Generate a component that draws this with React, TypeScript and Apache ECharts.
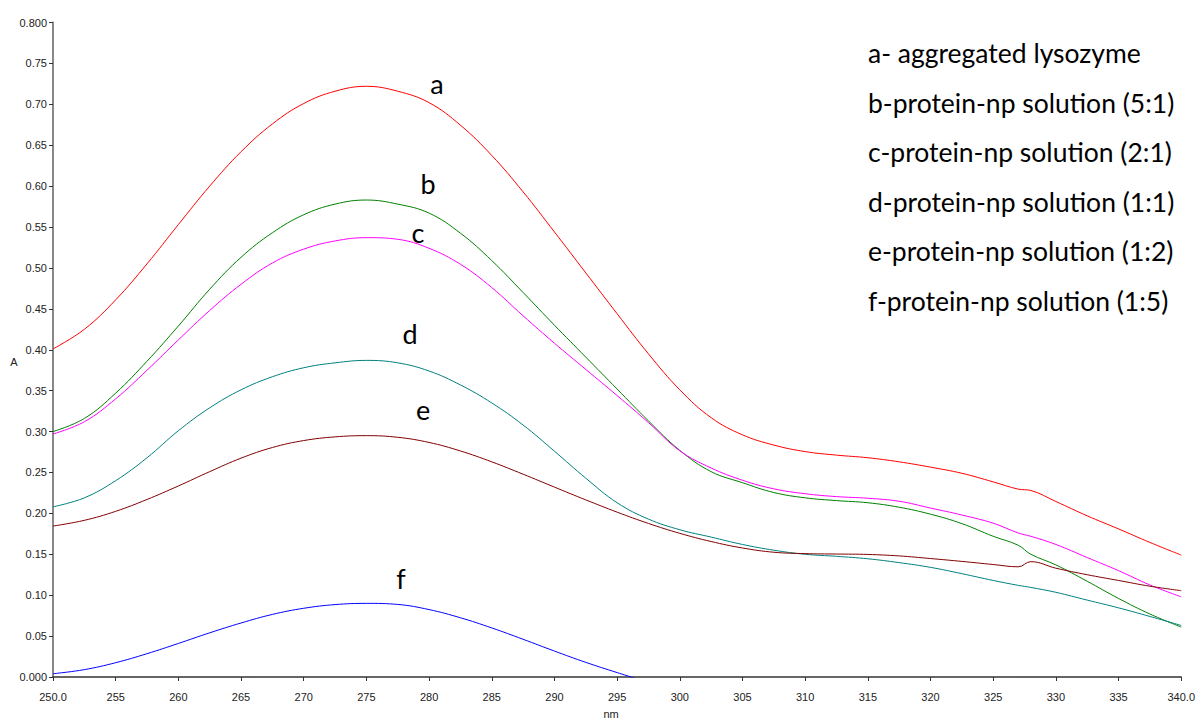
import React, { useEffect, useRef } from 'react';
import * as echarts from 'echarts';

const wavelengths = [250, 252.5, 255, 257.5, 260, 262.5, 265, 267.5, 270, 272.5, 275, 277.5, 280, 282.5, 285, 287.5, 290, 292.5, 295, 297.5, 300, 302.5, 305, 307.5, 310, 312.5, 315, 317.5, 320, 322.5, 325, 327, 328, 330, 332.5, 335, 337.5, 340];

const seriesA = [0.401, 0.425, 0.461, 0.505, 0.553, 0.600, 0.642, 0.676, 0.701, 0.716, 0.722, 0.716, 0.702, 0.6745, 0.6375, 0.593, 0.544, 0.494, 0.444, 0.395, 0.351, 0.317, 0.296, 0.2835, 0.2755, 0.2712, 0.268, 0.263, 0.2565, 0.249, 0.2385, 0.2296, 0.228, 0.2145, 0.197, 0.181, 0.1645, 0.149];
const seriesB = [0.300, 0.316, 0.347, 0.386, 0.429, 0.474, 0.513, 0.543, 0.565, 0.578, 0.583, 0.578, 0.567, 0.5425, 0.509, 0.470, 0.430, 0.391, 0.352, 0.313, 0.277, 0.251, 0.2375, 0.2255, 0.219, 0.2156, 0.213, 0.2075, 0.199, 0.1875, 0.172, 0.161, 0.150, 0.137, 0.117, 0.096, 0.077, 0.061];
const seriesC = [0.297, 0.312, 0.340, 0.375, 0.412, 0.448, 0.480, 0.506, 0.523, 0.533, 0.537, 0.535, 0.524, 0.5045, 0.476, 0.4415, 0.408, 0.376, 0.344, 0.311, 0.2765, 0.2555, 0.2405, 0.230, 0.224, 0.2205, 0.2185, 0.2148, 0.2065, 0.198, 0.188, 0.176, 0.172, 0.162, 0.146, 0.130, 0.1125, 0.098];
const seriesD = [0.208, 0.219, 0.240, 0.268, 0.301, 0.329, 0.351, 0.367, 0.378, 0.384, 0.387, 0.384, 0.374, 0.357, 0.335, 0.308, 0.276, 0.243, 0.213, 0.193, 0.180, 0.171, 0.162, 0.155, 0.150, 0.1475, 0.1445, 0.1398, 0.134, 0.1263, 0.118, 0.112, 0.1095, 0.1035, 0.094, 0.0845, 0.074, 0.063];
const seriesE = [0.1845, 0.1915, 0.2025, 0.217, 0.2335, 0.251, 0.2675, 0.2805, 0.289, 0.2935, 0.295, 0.293, 0.2867, 0.2763, 0.263, 0.2479, 0.2321, 0.2165, 0.2015, 0.1877, 0.1756, 0.1656, 0.1577, 0.1525, 0.1508, 0.1503, 0.1498, 0.148, 0.1448, 0.1413, 0.1375, 0.1347, 0.141, 0.133, 0.125, 0.118, 0.111, 0.1055];
const seriesF = [0.004, 0.009, 0.0175, 0.0285, 0.041, 0.054, 0.066, 0.0765, 0.084, 0.0885, 0.090, 0.0887, 0.0824, 0.0724, 0.060, 0.0461, 0.0317, 0.0179, 0.0054, -0.0066, null, null, null, null, null, null, null, null, null, null, null, null, null, null, null, null, null, null];

const seriesNames = ['a', 'b', 'c', 'd', 'e', 'f'];
const seriesColors = ['#ff0000', '#008000', '#ff00ff', '#008080', '#800000', '#0000ff'];
const legendLines = [
  'a- aggregated lysozyme',
  'b-protein-np solution (5:1)',
  'c-protein-np solution (2:1)',
  'd-protein-np solution (1:1)',
  'e-protein-np solution (1:2)',
  'f-protein-np solution (1:5)',
];
const letterPositions = [[437, 83], [428, 183], [418, 232], [410, 333], [423, 409], [401, 578]];

const allSeries = [seriesA, seriesB, seriesC, seriesD, seriesE, seriesF];

export default function App() {
  const ref = useRef<HTMLDivElement>(null);
  useEffect(() => {
    const chart = echarts.init(ref.current!, null, { renderer: 'svg' });
    const axisFont = { fontFamily: 'Liberation Sans Narrow, Liberation Sans, Arial', fontSize: 11, color: '#222' };
    chart.setOption({
      animation: false,
      backgroundColor: '#ffffff',
      grid: { left: 53, right: 15, top: 22.5, bottom: 44, containLabel: false },
      xAxis: {
        type: 'value',
        min: 250,
        max: 340,
        interval: 5,
        name: 'nm',
        nameLocation: 'middle',
        nameGap: 31,
        nameTextStyle: { ...axisFont, padding: [0, 12, 0, 0] },
        axisLine: { show: true, lineStyle: { color: '#333', width: 1.5 } },
        axisTick: { show: true, length: 4, lineStyle: { color: '#333' } },
        axisLabel: {
          ...axisFont,
          margin: 14,
          formatter: (v: number) => (v === 250 || v === 340 ? v.toFixed(1) : String(v)),
        },
        splitLine: { show: false },
      },
      yAxis: {
        type: 'value',
        min: 0,
        max: 0.8,
        interval: 0.05,
        name: '',
        axisLine: { show: true, lineStyle: { color: '#888', width: 2 } },
        axisTick: { show: true, length: 4, lineStyle: { color: '#333' } },
        axisLabel: {
          ...axisFont,
          margin: 6,
          formatter: (v: number) =>
            Math.abs(v) < 1e-9 ? '0.000' : Math.abs(v - 0.8) < 1e-9 ? '0.800' : v.toFixed(2),
        },
        splitLine: { show: false },
      },
      series: allSeries.map((vals, si) => ({
        name: seriesNames[si],
        type: 'line',
        data: wavelengths.map((w, i) => [w, vals[i]]),
        smooth: 0.4,
        showSymbol: false,
        symbol: 'none',
        clip: true,
        lineStyle: { color: seriesColors[si], width: 1 },
        itemStyle: { color: seriesColors[si] },
      })),
      graphic: [
        {
          type: 'text',
          x: 14,
          y: 362,
          style: {
            text: 'A',
            fontFamily: 'Liberation Sans Narrow, Liberation Sans, Arial',
            fontSize: 11,
            fill: '#222',
            align: 'center',
            verticalAlign: 'middle',
          },
        },
        ...seriesNames.map((n, i) => ({
          type: 'text',
          x: letterPositions[i][0],
          y: letterPositions[i][1],
          style: {
            text: n,
            fontFamily: 'Lato, Open Sans, sans-serif',
            fontSize: 27,
            fill: '#000',
            align: 'center',
            verticalAlign: 'middle',
          },
        })),
        ...legendLines.map((t, i) => ({
          type: 'text',
          x: 868,
          y: 53 + i * 49.5,
          style: {
            text: t,
            fontFamily: 'Lato, Open Sans, sans-serif',
            fontSize: 26.5,
            fill: '#000',
            align: 'left',
            verticalAlign: 'middle',
          },
        })),
      ],
    });
    return () => chart.dispose();
  }, []);
  return (
    <div
      ref={ref}
      style={{ position: 'fixed', left: 0, top: 0, width: 1198, height: 724, background: '#fff' }}
    />
  );
}
